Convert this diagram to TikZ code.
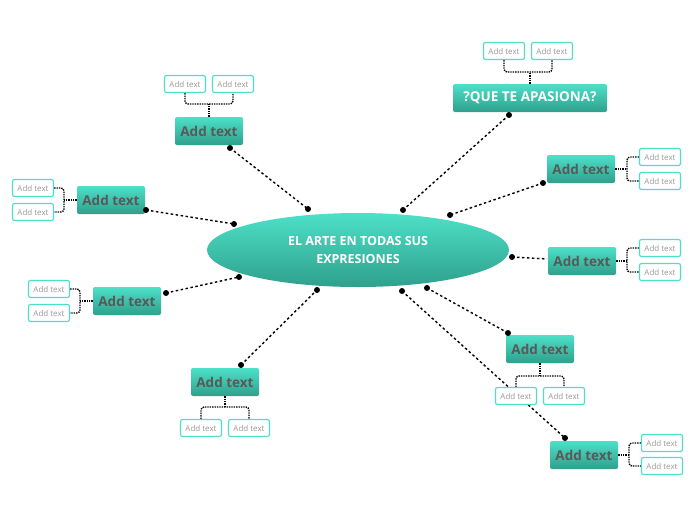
\documentclass[tikz,border=0pt]{standalone}
\usepackage{fontspec}
\setmainfont{Open Sans}
\usetikzlibrary{shapes.geometric}
\definecolor{tq}{HTML}{4DE0C8}
\definecolor{tqd}{HTML}{2FA08C}
\tikzset{
 main/.style={rectangle,rounded corners=2pt,top color=tq,bottom color=tqd,minimum height=28pt,minimum width=68pt,inner xsep=4pt,font=\fontsize{13.5}{15}\selectfont\bfseries,text=black!65},
 sub/.style={draw=tq,line width=1.2pt,fill=white,rounded corners=2pt,minimum width=41pt,minimum height=17pt,inner sep=1pt,font=\fontsize{8}{9}\selectfont,text=black!40},
 con/.style={dash pattern=on 2.5pt off 2.5pt,line width=1.4pt},
 br/.style={densely dotted,line width=1.4pt,rounded corners=3pt},
 dot/.style={circle,fill=black,inner sep=0pt,minimum size=6pt},
}
\begin{document}
\begin{tikzpicture}[x=1pt,y=-1pt]
\useasboundingbox (0,0) rectangle (696,520);
\node[ellipse,top color=tq,bottom color=tqd,minimum width=302pt,minimum height=74pt,align=center,text=white,font=\fontsize{12.5}{18}\selectfont\bfseries] (c) at (358,250) {EL ARTE EN TODAS SUS\\EXPRESIONES};
\node[main,minimum width=154pt,text=white] (q) at (530,98) {?QUE TE APASIONA?};
\node[main] (a1) at (209,131) {Add text};
\node[main] (a2) at (111,200) {Add text};
\node[main] (a3) at (127,301) {Add text};
\node[main] (a4) at (225,382) {Add text};
\node[main] (r1) at (581,169) {Add text};
\node[main] (r2) at (582,261) {Add text};
\node[main] (r3) at (540,349) {Add text};
\node[main] (r4) at (584,455) {Add text};
% connector endpoints
\foreach \n/\x/\y in {q1/509/115,q2/403/210,b1/230/148,b2/308/209,d1/146/210,d2/234/224,e1/166/293,e2/239/277,f1/241/365,f2/317/290,g1/543/183,g2/450/215,h1/512/257,h2/547/259,i1/427/288,i2/508/333,j1/402/291,j2/565/438}
  \coordinate (\n) at (\x,\y);
\foreach \s/\t in {q1/q2,b1/b2,d1/d2,e1/e2,f1/f2,g1/g2,i1/i2,j1/j2}{
 \draw[con] (\s)--(\t);
 \node[dot] at (\s) {}; \node[dot] at (\t) {};}
\draw[con] (h1)--(h2); \node[dot] at (h1) {};
% subs
\node[sub] (q-1) at (504,51) {Add text}; \node[sub] (q-2) at (552,51) {Add text};
\node[sub] (a1-1) at (185,84) {Add text}; \node[sub] (a1-2) at (233,84) {Add text};
\node[sub] (a2-1) at (33,188) {Add text}; \node[sub] (a2-2) at (33,212) {Add text};
\node[sub] (a3-1) at (49,289) {Add text}; \node[sub] (a3-2) at (49,313) {Add text};
\node[sub] (a4-1) at (201,428) {Add text}; \node[sub] (a4-2) at (249,428) {Add text};
\node[sub] (r1-1) at (660,157) {Add text}; \node[sub] (r1-2) at (660,181) {Add text};
\node[sub] (r2-1) at (660,248) {Add text}; \node[sub] (r2-2) at (660,272) {Add text};
\node[sub] (r3-1) at (516,396) {Add text}; \node[sub] (r3-2) at (564,396) {Add text};
\node[sub] (r4-1) at (662,443) {Add text}; \node[sub] (r4-2) at (662,466) {Add text};
% brackets up/down
\foreach \n/\m in {q/72,a1/104}{
 \draw[br] (\n-1.south)--(\n-1.south |- 0,\m)--(\n-2.south |- 0,\m)--(\n-2.south);
 \draw[br] (\n.north)--(\n.north |- 0,\m);}
\foreach \n/\m in {a4/407,r3/376}{
 \draw[br] (\n-1.north)--(\n-1.north |- 0,\m)--(\n-2.north |- 0,\m)--(\n-2.north);
 \draw[br] (\n.south)--(\n.south |- 0,\m);}
% brackets left/right
\foreach \n/\m in {a2/64,a3/80}{
 \draw[br] (\n-1.east)--(\n-1.east -| \m,0)--(\n-2.east -| \m,0)--(\n-2.east);
 \draw[br] (\n.west)--(\n.west -| \m,0);}
\foreach \n/\m in {r1/627,r2/627,r4/629}{
 \draw[br] (\n-1.west)--(\n-1.west -| \m,0)--(\n-2.west -| \m,0)--(\n-2.west);
 \draw[br] (\n.east)--(\n.east -| \m,0);}
\end{tikzpicture}
\end{document}
